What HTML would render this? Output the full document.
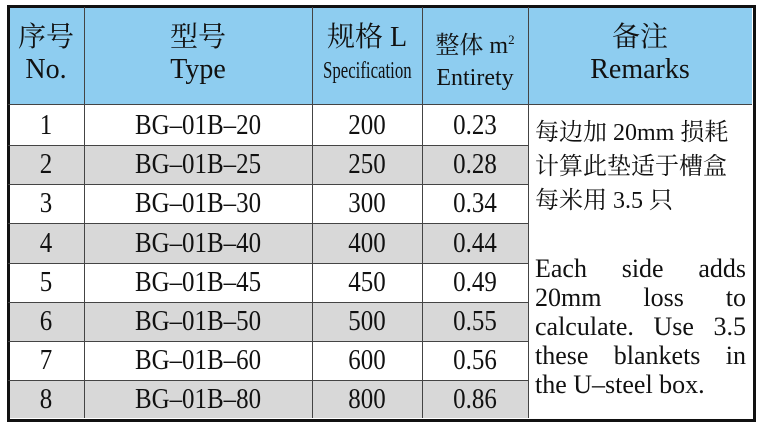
<!DOCTYPE html>
<html><head><meta charset="utf-8"><style>
body{margin:0;width:757px;height:426px;background:#fff;position:relative;overflow:hidden;font-family:"Liberation Serif","Noto Serif CJK SC",serif;color:#111}
.a{position:absolute}
.c{position:absolute;text-align:center;white-space:nowrap}
.h{background:#8ecdf0}
.g{background:#d8d8d8}
.v{position:absolute;width:1px;background:#444}
.r{position:absolute;height:1px;background:#444;left:8px;width:520px}
.t{font-size:29px;line-height:39.2px;transform:scaleX(0.86)}
.rm{position:absolute;left:535px;width:211px;color:#111}
.en{font-size:26px;text-align:justify;text-align-last:justify;line-height:29px;height:29px;overflow:hidden}
</style></head><body>
<div class="a h" style="left:8px;top:7px;width:744px;height:98px"></div>
<div class="a g" style="left:8px;top:145px;width:520px;height:39px"></div>
<div class="a g" style="left:8px;top:223px;width:520px;height:40px"></div>
<div class="a g" style="left:8px;top:302px;width:520px;height:39px"></div>
<div class="a g" style="left:8px;top:380px;width:520px;height:38px"></div>
<div class="a" style="left:7px;top:5px;width:743px;height:411px;border:3px solid #111"></div>
<div class="a" style="left:8px;top:104px;width:744px;height:1px;background:#444"></div>
<div class="v" style="left:84px;top:7px;height:411px"></div>
<div class="v" style="left:312px;top:7px;height:411px"></div>
<div class="v" style="left:422px;top:7px;height:411px"></div>
<div class="v" style="left:528px;top:7px;height:411px"></div>
<div class="r" style="top:145px"></div><div class="r" style="top:184px"></div><div class="r" style="top:223px"></div><div class="r" style="top:263px"></div><div class="r" style="top:302px"></div><div class="r" style="top:341px"></div><div class="r" style="top:380px"></div>
<!-- header -->
<div class="c" style="left:8px;width:76px;top:22px;font-size:28px;line-height:32px">序号<br>No.</div>
<div class="c" style="left:84px;width:228px;top:22px;font-size:28px;line-height:32px">型号<br>Type</div>
<div class="c" style="left:312px;width:110px;top:22px;font-size:28px;line-height:32px">规格 L<br><span style="display:inline-block;font-size:24px;transform:scaleX(0.7);margin:0 -20px">Specification</span></div>
<div class="c" style="left:422px;width:106px;top:24px;font-size:24px;line-height:32px">整体 m<sup style="font-size:13px">2</sup><br>Entirety</div>
<div class="c" style="left:528px;width:224px;top:22px;font-size:28px;line-height:32px">备注<br>Remarks</div>
<!-- rows -->
<div class="c t" style="left:8px;width:76px;top:106px">1<br>2<br>3<br>4<br>5<br>6<br>7<br>8</div>
<div class="c t" style="left:84px;width:228px;top:106px">BG–01B–20<br>BG–01B–25<br>BG–01B–30<br>BG–01B–40<br>BG–01B–45<br>BG–01B–50<br>BG–01B–60<br>BG–01B–80</div>
<div class="c t" style="left:312px;width:110px;top:106px">200<br>250<br>300<br>400<br>450<br>500<br>600<br>800</div>
<div class="c t" style="left:422px;width:106px;top:106px">0.23<br>0.28<br>0.34<br>0.44<br>0.49<br>0.55<br>0.56<br>0.86</div>
<div class="rm" style="top:116px;font-size:24px;line-height:34px;white-space:nowrap">每边加 20mm 损耗<br>计算此垫适于槽盒<br>每米用 3.5 只</div>
<div class="rm" style="top:254px">
<div class="en">Each side adds</div><div class="en">20mm loss to</div><div class="en">calculate. Use 3.5</div><div class="en">these blankets in</div><div style="font-size:26px;line-height:29px;white-space:nowrap">the U–steel box.</div>
</div>
</body></html>
